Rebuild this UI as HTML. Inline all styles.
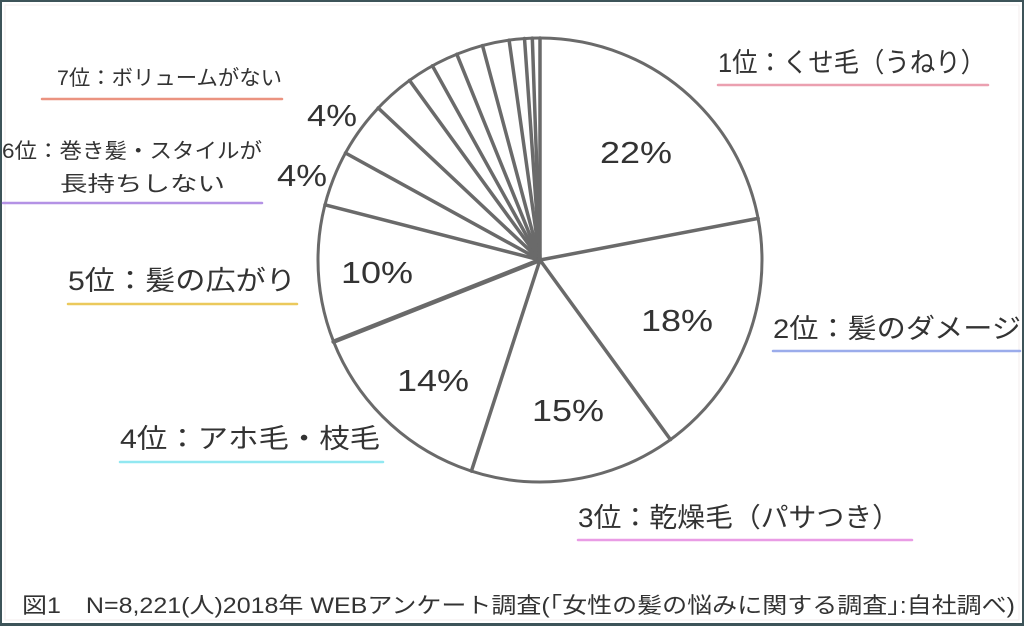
<!DOCTYPE html>
<html><head><meta charset="utf-8"><style>
html,body{margin:0;padding:0;background:#fff;}
svg{display:block;}
text{font-family:"Liberation Sans","Noto Sans CJK JP",sans-serif;fill:#333;}
</style></head><body>
<svg width="1024" height="626" viewBox="0 0 1024 626" xmlns="http://www.w3.org/2000/svg">
<rect x="0" y="0" width="1024" height="626" fill="#3d5459"/>
<rect x="2" y="2" width="1020" height="621" fill="#fff"/>
<rect x="5" y="5" width="1014" height="615" fill="none" stroke="#f3eeee" stroke-width="1"/>
<g stroke="#6a6a6a" stroke-width="3.5" fill="none" stroke-linecap="round">
<circle cx="540" cy="260" r="222" stroke-width="3"/>
<line x1="540" y1="260" x2="540" y2="38"/>
<line x1="540" y1="260" x2="758.1" y2="218.4"/>
<line x1="540" y1="260" x2="670.5" y2="439.6"/>
<line x1="540" y1="260" x2="471.4" y2="471.1"/>
<line x1="540" y1="260" x2="333.6" y2="341.7" stroke-width="4.5"/>
<line x1="540" y1="260" x2="325.0" y2="204.8"/>
<line x1="540" y1="260" x2="345.5" y2="153.0"/>
<line x1="540" y1="260" x2="378.2" y2="108.0"/>
<line x1="540" y1="260" x2="409.5" y2="80.4"/>
<line x1="540" y1="260" x2="432.4" y2="65.8"/>
<line x1="540" y1="260" x2="456.8" y2="54.2"/>
<line x1="540" y1="260" x2="482.5" y2="45.6"/>
<line x1="540" y1="260" x2="509.1" y2="40.2"/>
<line x1="540" y1="260" x2="524.5" y2="38.5"/>
<line x1="540" y1="260" x2="532.3" y2="38.1"/>
</g>
<g font-size="31" lengthAdjust="spacingAndGlyphs">
<text x="600" y="163" textLength="72" lengthAdjust="spacingAndGlyphs">22%</text>
<text x="641" y="331" textLength="72" lengthAdjust="spacingAndGlyphs">18%</text>
<text x="532" y="421" textLength="72" lengthAdjust="spacingAndGlyphs">15%</text>
<text x="397" y="391" textLength="72" lengthAdjust="spacingAndGlyphs">14%</text>
<text x="341" y="283" textLength="72" lengthAdjust="spacingAndGlyphs">10%</text>
<text x="307" y="126" textLength="50" lengthAdjust="spacingAndGlyphs">4%</text>
<text x="277" y="186" textLength="50" lengthAdjust="spacingAndGlyphs">4%</text>
</g>
<g font-size="27">
<text x="718" y="72" textLength="268" lengthAdjust="spacingAndGlyphs">1位：くせ毛（うねり）</text>
<text x="773" y="338" textLength="248" lengthAdjust="spacingAndGlyphs">2位：髪のダメージ</text>
<text x="578" y="527" textLength="322" lengthAdjust="spacingAndGlyphs">3位：乾燥毛（パサつき）</text>
<text x="120" y="448" textLength="260" lengthAdjust="spacingAndGlyphs">4位：アホ毛・枝毛</text>
<text x="68" y="290" textLength="228" lengthAdjust="spacingAndGlyphs">5位：髪の広がり</text>
</g>
<g font-size="21">
<text x="57" y="85" textLength="225" lengthAdjust="spacingAndGlyphs">7位：ボリュームがない</text>
<text x="2" y="158" textLength="260" lengthAdjust="spacingAndGlyphs">6位：巻き髪・スタイルが</text>
<text x="60" y="191" textLength="165" lengthAdjust="spacingAndGlyphs">長持ちしない</text>
</g>
<g stroke-width="2.5" fill="none" stroke-linecap="round" opacity="0.85">
<line x1="718" y1="85" x2="988" y2="85" stroke="#e88fa2"/>
<line x1="773" y1="351" x2="1020" y2="351" stroke="#8a9ee8"/>
<line x1="578" y1="540" x2="912" y2="540" stroke="#e58be0"/>
<line x1="120" y1="462" x2="383" y2="462" stroke="#7fe4ee"/>
<line x1="68" y1="304" x2="297" y2="304" stroke="#e8c040"/>
<line x1="3" y1="203" x2="262" y2="203" stroke="#a77fe0"/>
<line x1="42" y1="99" x2="282" y2="99" stroke="#e8806a"/>
</g>
<text x="22" y="613" font-size="22" textLength="993" lengthAdjust="spacingAndGlyphs">図1　N=8,221(人)2018年 WEBアンケート調査(｢女性の髪の悩みに関する調査｣:自社調べ)</text>
</svg>
</body></html>
